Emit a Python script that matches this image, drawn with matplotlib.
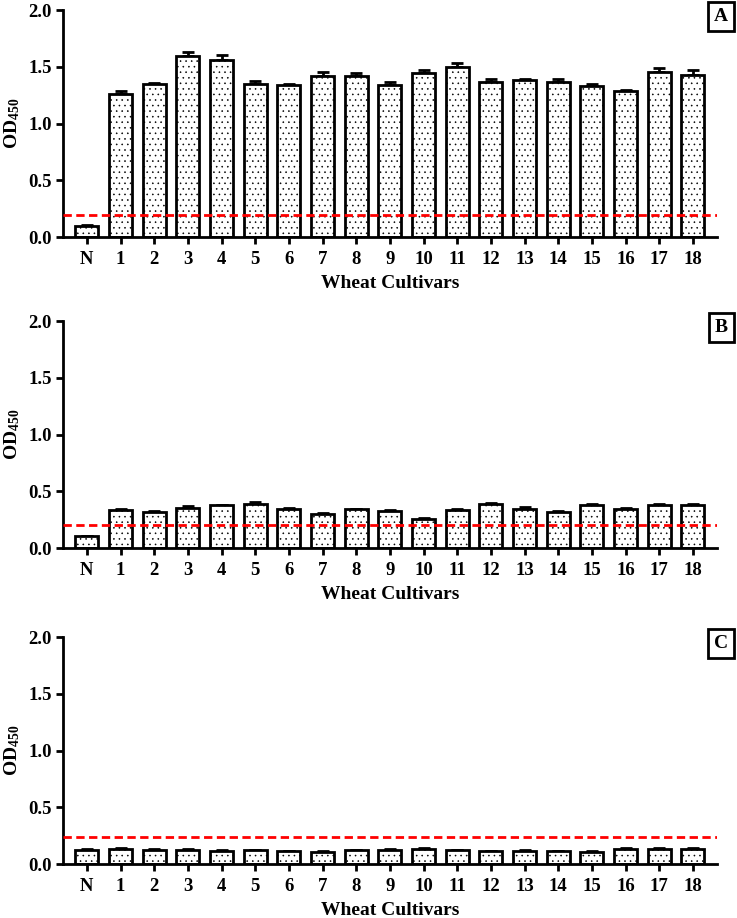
import matplotlib
matplotlib.use("Agg")
import matplotlib.pyplot as plt
import numpy as np

categories = ["N"] + [str(i) for i in range(1, 19)]

values_A = [0.10, 1.263, 1.345, 1.592, 1.560, 1.351, 1.336, 1.421, 1.418, 1.342,
            1.445, 1.500, 1.366, 1.380, 1.363, 1.333, 1.283, 1.454, 1.424]
errors_A = [0.003, 0.020, 0.010, 0.040, 0.047, 0.020, 0.015, 0.030, 0.030, 0.025,
            0.027, 0.035, 0.025, 0.012, 0.025, 0.015, 0.015, 0.038, 0.050]
cutoff_A = 0.19

values_B = [0.105, 0.337, 0.319, 0.357, 0.378, 0.392, 0.343, 0.299, 0.340, 0.322,
            0.252, 0.334, 0.384, 0.346, 0.319, 0.381, 0.348, 0.378, 0.378]
errors_B = [0.003, 0.010, 0.010, 0.010, 0.005, 0.015, 0.010, 0.006, 0.006, 0.012,
            0.009, 0.008, 0.012, 0.015, 0.006, 0.008, 0.006, 0.009, 0.012]
cutoff_B = 0.205

values_C = [0.126, 0.129, 0.126, 0.126, 0.117, 0.120, 0.111, 0.108, 0.120, 0.126,
            0.129, 0.123, 0.114, 0.117, 0.114, 0.108, 0.132, 0.129, 0.129]
errors_C = [0.003, 0.010, 0.004, 0.004, 0.004, 0.004, 0.004, 0.004, 0.004, 0.004,
            0.009, 0.004, 0.004, 0.004, 0.004, 0.004, 0.006, 0.009, 0.009]
cutoff_C = 0.24

panels = [("A", values_A, errors_A, cutoff_A),
          ("B", values_B, errors_B, cutoff_B),
          ("C", values_C, errors_C, cutoff_C)]

plt.rcParams['font.family'] = ['Liberation Serif', 'DejaVu Serif']
plt.rcParams['font.weight'] = 'bold'
plt.rcParams['mathtext.fontset'] = 'custom'
plt.rcParams['mathtext.rm'] = 'Liberation Serif:bold'
plt.rcParams['mathtext.bf'] = 'Liberation Serif:bold'
plt.rcParams['mathtext.default'] = 'bf'
plt.rcParams['hatch.linewidth'] = 0.4
plt.rcParams['hatch.color'] = '#333333'

fig = plt.figure(figsize=(7.37, 9.18), dpi=100)
bottoms = [0.7418, 0.403, 0.0588]
left, width, height = 0.0855, 0.887, 0.2473

x = np.arange(len(categories))
for (label, vals, errs, cut), b in zip(panels, bottoms):
    ax = fig.add_axes([left, b, width, height])
    ax.bar(x, vals, width=0.68, color='white', edgecolor='black', linewidth=2.0,
           hatch='...', zorder=2)
    ax.errorbar(x, vals, yerr=[np.zeros(len(vals)), errs], fmt='none',
                ecolor='black', elinewidth=2.0, capsize=4, capthick=2.0, zorder=1)
    ax.axhline(cut, color='#ff0000', linestyle=(0, (3, 1.6)), linewidth=2.0, zorder=3)
    ax.set_xlim(-0.71, 18.71)
    ax.set_ylim(0, 2.0)
    ax.set_yticks([0, 0.5, 1.0, 1.5, 2.0])
    ax.set_yticklabels(["0.0", "0.5", "1.0", "1.5", "2.0"])
    ax.set_xticks(x)
    ax.set_xticklabels(categories)
    for s in ['top', 'right']:
        ax.spines[s].set_visible(False)
    for s in ['left', 'bottom']:
        ax.spines[s].set_linewidth(2.0)
    ax.tick_params(axis='both', width=2.0, length=5, labelsize=13.5, direction='out')
    ax.tick_params(axis='x', pad=5)
    ax.tick_params(axis='y', pad=3)
    for t in ax.get_xticklabels() + ax.get_yticklabels():
        t.set_fontweight('bold')
    ax.set_xlabel("Wheat Cultivars", fontsize=14, fontweight='bold', labelpad=5)
    ax.set_ylabel(r"OD$_{\mathbf{450}}$", fontsize=14, fontweight='bold')
    ax.yaxis.set_label_coords(-0.062, 0.5)
    ax.text(1.007, 1.01, label, transform=ax.transAxes, fontsize=14, fontweight='bold',
            ha='center', va='top',
            bbox=dict(boxstyle='square,pad=0.3', facecolor='white', edgecolor='black',
                      linewidth=2.0))

fig.savefig("out.png", dpi=100)
